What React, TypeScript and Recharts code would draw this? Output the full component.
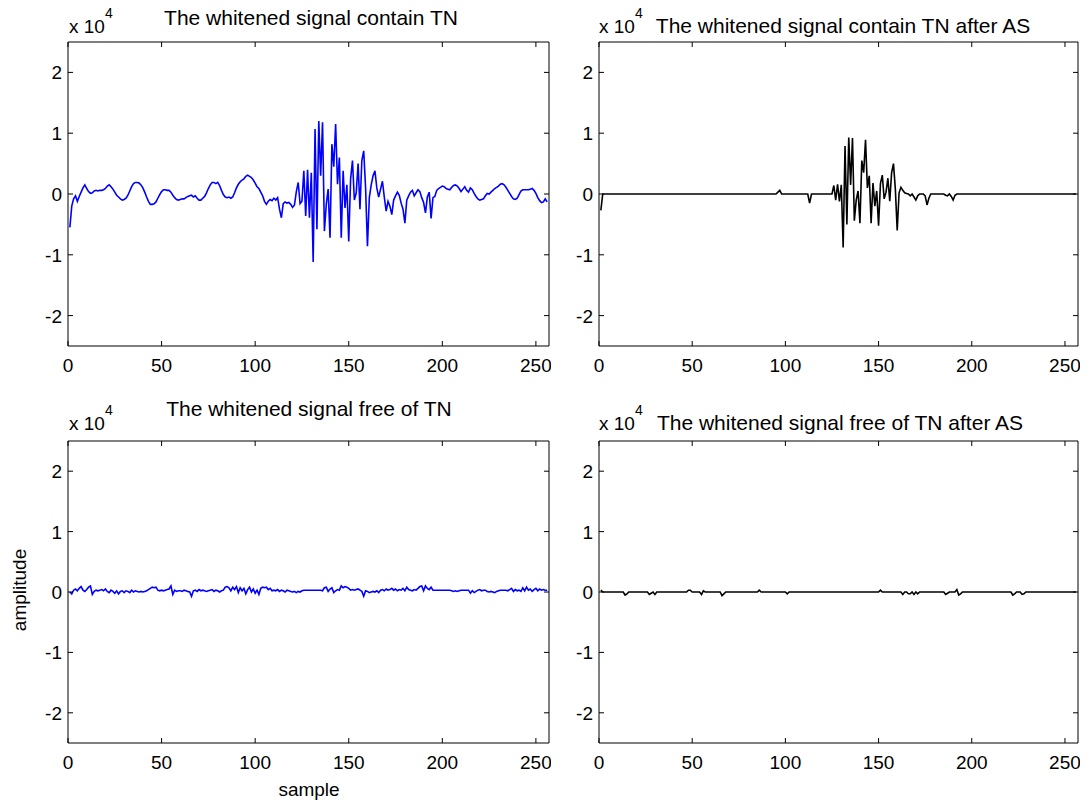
import React from 'react';
import { LineChart, Line, XAxis, YAxis } from 'recharts';

// x axis: sample index, y axis: amplitude (raw, shown as x 10^4)
const sampleTicks = [0, 50, 100, 150, 200, 250];
const ampTicks = [-20000, -10000, 0, 10000, 20000];

// whitened signal containing TN
const tnSignal = [
  -5500, -2000, -800, -300, -1200, -400, 300, 1000, 1500, 900, 400, 100, 200, 500, 600, 500,
  600, 600, 700, 900, 1300, 1500, 1200, 800, 300, -200, -500, -800, -1000, -900, -700, -200,
  500, 1200, 1700, 1900, 1900, 1800, 1500, 1000, 300, -500, -1200, -1700, -1700, -1600, -1300, -700,
  -100, 400, 700, 700, 600, 600, 300, -200, -600, -900, -1000, -900, -800, -800, -600, -400,
  -300, -200, -500, -300, -700, -1000, -1000, -700, -400, 200, 900, 1500, 1900, 1900, 1700, 1900,
  1400, 600, -100, -500, -600, -500, -700, -500, 200, 1000, 1600, 2000, 2300, 2500, 2900, 3100,
  2900, 2700, 2300, 1800, 1200, 900, 300, -300, -1200, -1700, -1200, -900, -1100, -700, -1000, -600,
  -2500, -3900, -1600, -1300, -1500, -1400, -1700, -2200, -1800, 400, 1900, -1600, -1200, 3800, -3600, 4000,
  -3900, 3500, -11200, 10700, -5800, 12000, 3000, 11800, -6100, -1700, 800, -7200, 8200, 4500, 11500, 1600,
  6000, -7200, 3800, -2300, 1500, -7800, 2500, 5500, -1000, 200, 5000, -2500, 5500, 7100, 1000, -8600,
  -600, 1500, 3000, 3800, 1000, -500, 800, 2100, -500, -2800, -1200, -2000, -3400, -1000, -300, 300,
  -200, -1500, -2500, -4800, -1000, -300, 300, 600, -300, 200, 700, 400, -600, -1400, -3100, -500,
  300, -4000, -600, -400, 600, 900, 1100, 1300, 1200, 900, 800, 700, 1100, 1400, 1500, 1300,
  900, 400, 800, 1200, 600, 300, 1000, 700, 100, -400, -800, -1000, -900, -800, -300, 100,
  0, 300, 600, 900, 1100, 1300, 1600, 1700, 1500, 1100, 600, 100, -400, -800, -900, -700,
  -100, 500, 700, 700, 700, 700, 800, 900, 600, 100, -600, -1100, -1400, -1300, -800, -1300,
];

// same signal after AS
const tnAfterAs = [
  -2700, 0, 0, 0, 0, 0, 0, 0, 0, 0, 0, 0, 0, 0, 0, 0,
  0, 0, 0, 0, 0, 0, 0, 0, 0, 0, 0, 0, 0, 0, 0, 0,
  0, 0, 0, 0, 0, 0, 0, 0, 0, 0, 0, 0, 0, 0, 0, 0,
  0, 0, 0, 0, 0, 0, 0, 0, 0, 0, 0, 0, 0, 0, 0, 0,
  0, 0, 0, 0, 0, 0, 0, 0, 0, 0, 0, 0, 0, 0, 0, 0,
  0, 0, 0, 0, 0, 0, 0, 0, 0, 0, 0, 0, 0, 0, 0, 300,
  600, 0, 0, 0, 0, 0, 0, 0, 0, 0, 0, 0, 0, 0, 0, 0,
  -1500, 0, 0, 0, 0, 0, 0, 0, 0, 0, 0, 0, 0, 1400, -1000, 1600,
  -1200, 1500, -8800, 7900, -5000, 9300, 1500, 9200, -4400, -1000, 500, -4800, 5500, 3500, 8900, 1000,
  3000, -4800, 1800, -2000, 500, -5200, 1700, 3100, -800, 300, 2600, -1200, 3500, 5000, 800, -6000,
  200, 1100, 600, 200, 100, 0, -300, 0, -500, -1000, -300, 0, 0, 0, -300, -1800,
  -700, 0, 0, 0, 0, 0, 0, 0, 0, -200, -300, 0, -400, -1000, -200, 0,
  0, 0, 0, 0, 0, 0, 0, 0, 0, 0, 0, 0, 0, 0, 0, 0,
  0, 0, 0, 0, 0, 0, 0, 0, 0, 0, 0, 0, 0, 0, 0, 0,
  0, 0, 0, 0, 0, 0, 0, 0, 0, 0, 0, 0, 0, 0, 0, 0,
  0, 0, 0, 0, 0, 0, 0, 0, 0, 0, 0, 0, 0, 0, 0, 0,
];

// whitened signal free of TN
const freeSignal = [
  0, -300, 300, 500, 200, 600, 900, 300, 100, 400, 800, 1000, -400, 100, 300, 200,
  300, 400, 200, 500, 100, -100, 300, 100, -200, 200, -300, 100, 200, -100, 200, 100,
  -100, 300, 0, 200, 100, 0, 100, 0, 100, 200, 400, 600, 800, 700, 800, 300,
  200, 300, 200, 300, 400, 500, 1000, -400, 300, 100, 200, 200, 100, 300, 200, 100,
  0, -700, 200, 300, 100, 400, 200, 300, 200, 100, 200, 300, 400, 100, 300, 200,
  0, 200, 300, 800, 900, 700, 200, 800, 400, 900, -100, 700, 200, 600, -300, 400,
  800, 0, 500, -200, 300, -400, 600, 800, 700, 800, 400, 600, 200, 300, 200, 400,
  100, 300, 200, 0, 300, 200, 100, 0, 100, -100, 100, 0, 200, 300, 300, 300,
  300, 300, 300, 300, 300, 300, 300, 200, 700, 800, 100, 500, 700, -100, 200, 400,
  300, 1000, 700, 900, 800, 600, 300, 400, 300, 400, 500, 300, 100, -700, 200, 100,
  -100, 0, 100, 0, 200, -100, 300, 400, 200, 500, 300, 400, 600, 300, 500, 200,
  400, 300, 600, 200, 800, 400, 300, 200, 400, 300, 600, 900, 1000, 200, 1000, 600,
  400, 800, 300, 300, 300, 300, 300, 300, 300, 300, 300, 300, 200, 100, 200, 100,
  200, 300, 300, 300, 300, 300, -200, 200, -100, 100, 300, 400, 200, 300, 300, 100,
  0, 100, 0, -100, 100, 200, 300, 300, 300, 300, 200, 400, 600, 100, 400, 200,
  300, 100, 700, 200, 800, 300, 500, 100, 400, 600, 200, 500, 300, 400, 300, 300,
];

// free of TN after AS
const freeAfterAs = [
  300, 0, 0, 0, 0, 0, 0, 0, 0, 0, 0, 0, 0, -500, -300, 0,
  0, 0, 0, 0, 0, 0, 0, 0, 0, 0, -400, -200, 0, -400, 0, 0,
  0, 0, 0, 0, 0, 0, 0, 0, 0, 0, 0, 0, 0, 0, 0, 300,
  300, 0, 0, 0, 0, 0, -400, 200, 0, 0, 0, 0, 0, 0, 0, 0,
  0, -600, -300, 0, 0, 0, 0, 0, 0, 0, 0, 0, 0, 0, 0, 0,
  0, 0, 0, 0, 0, 300, 0, 0, 0, 0, 0, 0, 0, 0, 0, 0,
  0, 0, 0, 0, -300, 0, 0, 0, 0, 0, 0, 0, 0, 0, 0, 0,
  0, 0, 0, 0, 0, 0, 0, 0, 0, 0, 0, 0, 0, 0, 0, 0,
  0, 0, 0, 0, 0, 0, 0, 0, 0, 0, 0, 0, 0, 0, 0, 0,
  0, 0, 0, 0, 0, 0, 300, 0, 0, 0, 0, 0, 0, 0, 0, 0,
  0, 0, -400, 0, 0, -300, -300, 0, -400, 0, -300, 0, 0, 0, 0, 0,
  0, 0, 0, 0, 0, 0, 0, 0, 0, -400, -200, 0, 0, 0, 0, 400,
  -500, -300, 0, 0, 0, 0, 0, 0, 0, 0, 0, 0, 0, 0, 0, 0,
  0, 0, 0, 0, 0, 0, 0, 0, 0, 0, 0, 0, 0, -500, -300, 0,
  0, 0, -400, -300, 0, 0, 0, 0, 0, 0, 0, 0, 0, 0, 0, 0,
  0, 0, 0, 0, 0, 0, 0, 0, 0, 0, 0, 0, 0, 0, 0, 0,
];

const FONT = '"Liberation Sans", Arial, sans-serif';
const TICK_FS = 19;
const TITLE_FS = 21;

const toRows = (vals: number[]) => vals.map((v, i) => ({ sample: i + 1, amp: v }));

// MATLAB style ticks: short marks pointing inside the box
const BottomTick = (props: any) => {
  const { x, y, payload } = props;
  return (
    <g>
      <line x1={x} x2={x} y1={y} y2={y - 5} stroke="#000" />
      <text x={x} y={y + 26} textAnchor="middle" fontSize={TICK_FS} fill="#000">{payload.value}</text>
    </g>
  );
};
const LeftTick = (props: any) => {
  const { x, y, payload } = props;
  return (
    <g>
      <line x1={x} x2={x + 5} y1={y} y2={y} stroke="#000" />
      <text x={x - 6} y={y + 7} textAnchor="end" fontSize={TICK_FS} fill="#000">{payload.value / 10000}</text>
    </g>
  );
};
const TopTick = (props: any) => {
  const { x, y } = props;
  return <line x1={x} x2={x} y1={y} y2={y + 5} stroke="#000" />;
};
const RightTick = (props: any) => {
  const { x, y } = props;
  return <line x1={x} x2={x - 5} y1={y} y2={y} stroke="#000" />;
};

const YW = 60;
const XH = 40;
const PAD = 2;

type PanelProps = { left: number; top: number; w: number; h: number; values: number[]; color: string };

const Panel = ({ left, top, w, h, values, color }: PanelProps) => (
  <div style={{ position: 'absolute', left: left - YW, top: top - PAD }}>
    <LineChart
      width={YW + w + PAD}
      height={PAD + h + XH}
      data={toRows(values)}
      margin={{ top: PAD - 1, right: PAD - 1, bottom: 0, left: 0 }}
    >
      <XAxis
        dataKey="sample"
        type="number"
        domain={[0, 257]}
        ticks={sampleTicks}
        interval={0}
        height={XH}
        tickSize={0}
        tickMargin={0}
        tick={<BottomTick />}
        axisLine={{ stroke: '#000' }}
        tickLine={false}
      />
      <XAxis
        xAxisId="top"
        orientation="top"
        dataKey="sample"
        type="number"
        domain={[0, 257]}
        ticks={sampleTicks}
        interval={0}
        height={1}
        tickSize={0}
        tickMargin={0}
        tick={<TopTick />}
        axisLine={{ stroke: '#000' }}
        tickLine={false}
      />
      <YAxis
        type="number"
        domain={[-25000, 25000]}
        ticks={ampTicks}
        interval={0}
        width={YW}
        tickSize={0}
        tickMargin={0}
        tick={<LeftTick />}
        axisLine={{ stroke: '#000' }}
        tickLine={false}
      />
      <YAxis
        yAxisId="right"
        orientation="right"
        type="number"
        domain={[-25000, 25000]}
        ticks={ampTicks}
        interval={0}
        width={1}
        tickSize={0}
        tickMargin={0}
        tick={<RightTick />}
        axisLine={{ stroke: '#000' }}
        tickLine={false}
      />
      {/* invisible twin so the top/right box axes get drawn */}
      <Line
        xAxisId="top"
        yAxisId="right"
        type="linear"
        dataKey="amp"
        stroke="none"
        dot={false}
        legendType="none"
        isAnimationActive={false}
      />
      <Line
        type="linear"
        dataKey="amp"
        stroke={color}
        strokeWidth={1.6}
        dot={false}
        isAnimationActive={false}
      />
    </LineChart>
  </div>
);

const Times = ({ x, y }: { x: number; y: number }) => (
  <g>
    <text x={x} y={y} fontSize={TICK_FS}>x 10</text>
    <text x={x + 36} y={y - 15} fontSize={14}>4</text>
  </g>
);

export default function App() {
  return (
    <div style={{ position: 'absolute', left: 0, top: 0, width: 1092, height: 802, background: '#fff', fontFamily: FONT }}>
      <Panel left={68} top={42} w={481} h={304} values={tnSignal} color="#0000ff" />
      <Panel left={599} top={42} w={479} h={304} values={tnAfterAs} color="#000000" />
      <Panel left={68} top={441} w={481} h={302} values={freeSignal} color="#0000ff" />
      <Panel left={599} top={441} w={479} h={302} values={freeAfterAs} color="#000000" />
      <svg width={1092} height={802} style={{ position: 'absolute', left: 0, top: 0, pointerEvents: 'none', fontFamily: FONT }}>
        <Times x={69} y={33} />
        <text x={311} y={25} fontSize={TITLE_FS} textAnchor="middle">The whitened signal contain TN</text>
        <Times x={599} y={33} />
        <text x={843} y={33} fontSize={TITLE_FS} textAnchor="middle">The whitened signal contain TN after AS</text>
        <Times x={69} y={430} />
        <text x={309} y={416} fontSize={TITLE_FS} textAnchor="middle">The whitened signal free of TN</text>
        <Times x={599} y={430} />
        <text x={840} y={430} fontSize={TITLE_FS} textAnchor="middle">The whitened signal free of TN after AS</text>
        <text x={309} y={796} fontSize={TICK_FS} textAnchor="middle">sample</text>
        <text x={26} y={590} fontSize={TICK_FS} textAnchor="middle" transform="rotate(-90 26 590)">amplitude</text>
      </svg>
    </div>
  );
}
